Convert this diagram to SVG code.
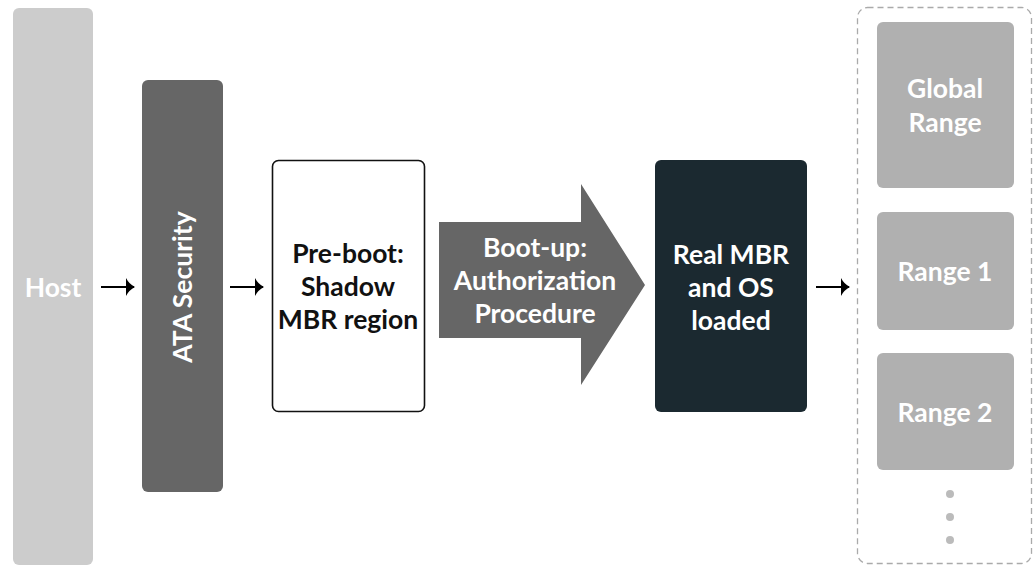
<svg xmlns="http://www.w3.org/2000/svg" width="1035" height="566" viewBox="0 0 1035 566">
<style>
text{font-family:Lato,"Open Sans","Liberation Sans",sans-serif;font-weight:bold;font-size:26.5px;text-anchor:middle;dominant-baseline:central}
.w{fill:#ffffff}
.k{fill:#111111}
.conn{stroke:#000;stroke-width:2;fill:none;marker-end:url(#ah)}
</style>
<defs>
<marker id="ah" viewBox="0 0 9 18" refX="8" refY="9" markerWidth="9" markerHeight="18" orient="auto" markerUnits="userSpaceOnUse">
<path d="M0,0 Q3,6 9,9 Q3,12 0,18 Z" fill="#000"/>
</marker>
</defs>
<rect width="1035" height="566" fill="#fff"/>
<g id="host">
<rect x="13" y="8" width="80" height="557" rx="6" fill="#cccccc"/>
<text class="w" x="53" y="287">Host</text>
</g>
<g id="ata">
<rect x="142" y="80" width="81" height="412" rx="6" fill="#666666"/>
<text class="w" transform="translate(182 287) rotate(-90)">ATA Security</text>
</g>
<g id="preboot">
<rect x="272.5" y="160.5" width="152" height="251" rx="6" fill="#fff" stroke="#111" stroke-width="1.6"/>
<text class="k" x="348" y="253">Pre-boot:</text>
<text class="k" x="348" y="286">Shadow</text>
<text class="k" x="348" y="319">MBR region</text>
</g>
<g id="bootup">
<path d="M439,222 L581,222 L581,184 L645,285 L581,385 L581,338 L439,338 Z" fill="#666666"/>
<text class="w" x="535" y="247">Boot-up:</text>
<text class="w" x="535" y="280">Authorization</text>
<text class="w" x="535" y="313">Procedure</text>
</g>
<g id="realmbr">
<rect x="655" y="160" width="152" height="252" rx="6" fill="#1b2930"/>
<text class="w" x="731" y="254">Real MBR</text>
<text class="w" x="731" y="287">and OS</text>
<text class="w" x="731" y="320">loaded</text>
</g>
<g id="ranges">
<rect x="857.5" y="7.5" width="174" height="556" rx="10" fill="none" stroke="#aaaaaa" stroke-width="1.3" stroke-dasharray="6 4"/>
</g>
<g id="global">
<rect x="877" y="22" width="137" height="166" rx="6" fill="#b0b0b0"/>
<text class="w" x="945" y="88">Global</text>
<text class="w" x="945" y="122">Range</text>
</g>
<g id="range1">
<rect x="877" y="212" width="137" height="118" rx="6" fill="#b0b0b0"/>
<text class="w" x="945" y="271">Range 1</text>
</g>
<g id="range2">
<rect x="877" y="353" width="137" height="117" rx="6" fill="#b0b0b0"/>
<text class="w" x="945" y="412">Range 2</text>
</g>
<g id="more">
<circle cx="950" cy="494" r="4" fill="#bbbbbb"/>
<circle cx="950" cy="517" r="4" fill="#bbbbbb"/>
<circle cx="950" cy="540" r="4" fill="#bbbbbb"/>
</g>
<g id="connectors">
<line class="conn" x1="101" y1="287" x2="134" y2="287"/>
<line class="conn" x1="230" y1="287" x2="263" y2="287"/>
<line class="conn" x1="816" y1="287" x2="849" y2="287"/>
</g>
</svg>
